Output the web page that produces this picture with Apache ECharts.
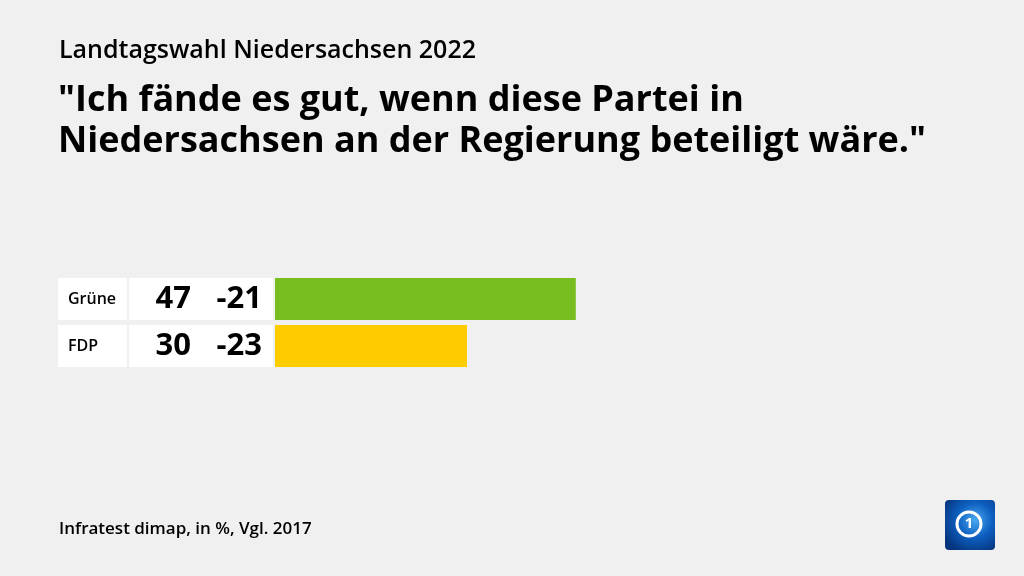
<!DOCTYPE html>
<html>
<head>
<meta charset="utf-8">
<script src="https://cdn.jsdelivr.net/npm/echarts@6/dist/echarts.min.js"></script>
<style>
html,body{margin:0;padding:0;background:#f0f0f0;}
#chart{width:1024px;height:576px;}
</style>
</head>
<body>
<div id="chart"></div>
<script>
const categories = ["Grüne", "FDP"];
const values = [47, 30];
const changes = ["-21", "-23"];
const barColors = ["#78be20", "#ffcc00"];
const supTitle = "Landtagswahl Niedersachsen 2022";
const mainTitle = "\"Ich fände es gut, wenn diese Partei in\nNiedersachsen an der Regierung beteiligt wäre.\"";
const footer = "Infratest dimap, in %, Vgl. 2017";

const FONT = "Open Sans";
const chart = echarts.init(document.getElementById('chart'), null, {renderer: 'canvas'});

chart.setOption({
  backgroundColor: '#f0f0f0',
  animation: false,
  title: [
    {text: supTitle, left: 59, top: 36, padding: 0, textStyle: {fontFamily: FONT, fontSize: 25, fontWeight: 600, color: '#000', lineHeight: 30}},
    {text: mainTitle, left: 58, top: 80, padding: 0, textStyle: {fontFamily: FONT, fontSize: 36, fontWeight: 700, color: '#000', lineHeight: 41}},
    {text: footer, left: 59, top: 518, padding: 0, textStyle: {fontFamily: FONT, fontSize: 17, fontWeight: 600, color: '#000', lineHeight: 22}}
  ],
  grid: {left: 275, width: 640, top: 275.5, height: 94, containLabel: false},
  xAxis: {type: 'value', min: 0, max: 100, show: false},
  yAxis: {
    type: 'category', data: categories, inverse: true,
    axisLine: {show: false}, axisTick: {show: false},
    axisLabel: {
      margin: 2,
      formatter: function (v, i) {
        return '{name|' + v + '}{gap|}{val|' + values[i] + '}{diff|' + changes[i] + '}';
      },
      rich: {
        name: {backgroundColor: '#fff', width: 59, height: 42, lineHeight: 42, padding: [0, 0, 0, 10], fontFamily: FONT, fontSize: 16, fontWeight: 600, color: '#000', align: 'left'},
        gap: {width: 2, height: 42},
        val: {backgroundColor: '#fff', width: 62, height: 42, lineHeight: 42, fontFamily: FONT, fontSize: 31, fontWeight: 700, color: '#000', align: 'right'},
        diff: {backgroundColor: '#fff', width: 71, height: 42, lineHeight: 42, padding: [0, 11, 0, 0], fontFamily: FONT, fontSize: 31, fontWeight: 700, color: '#000', align: 'right'}
      }
    }
  },
  series: [{
    type: 'bar',
    data: values.map((v, i) => ({value: v, itemStyle: {color: barColors[i]}})),
    barCategoryGap: '10.6%',
    silent: true
  }],
  graphic: [
    {type: 'rect', left: 945, top: 500, shape: {width: 50, height: 50, r: 4},
     style: {fill: new echarts.graphic.RadialGradient(0.6, 0.4, 0.7, [{offset: 0, color: '#4aa8f0'}, {offset: 0.5, color: '#0d5fc0'}, {offset: 1, color: '#06357e'}])}},
    {type: 'circle', shape: {cx: 969, cy: 524, r: 12}, style: {fill: 'none', stroke: '#fff', lineWidth: 3}},
    {type: 'text', x: 969, y: 524, style: {text: '1', fill: '#fff', font: 'bold 15px "Open Sans"', align: 'center', verticalAlign: 'middle'}}
  ]
});
</script>
</body>
</html>
